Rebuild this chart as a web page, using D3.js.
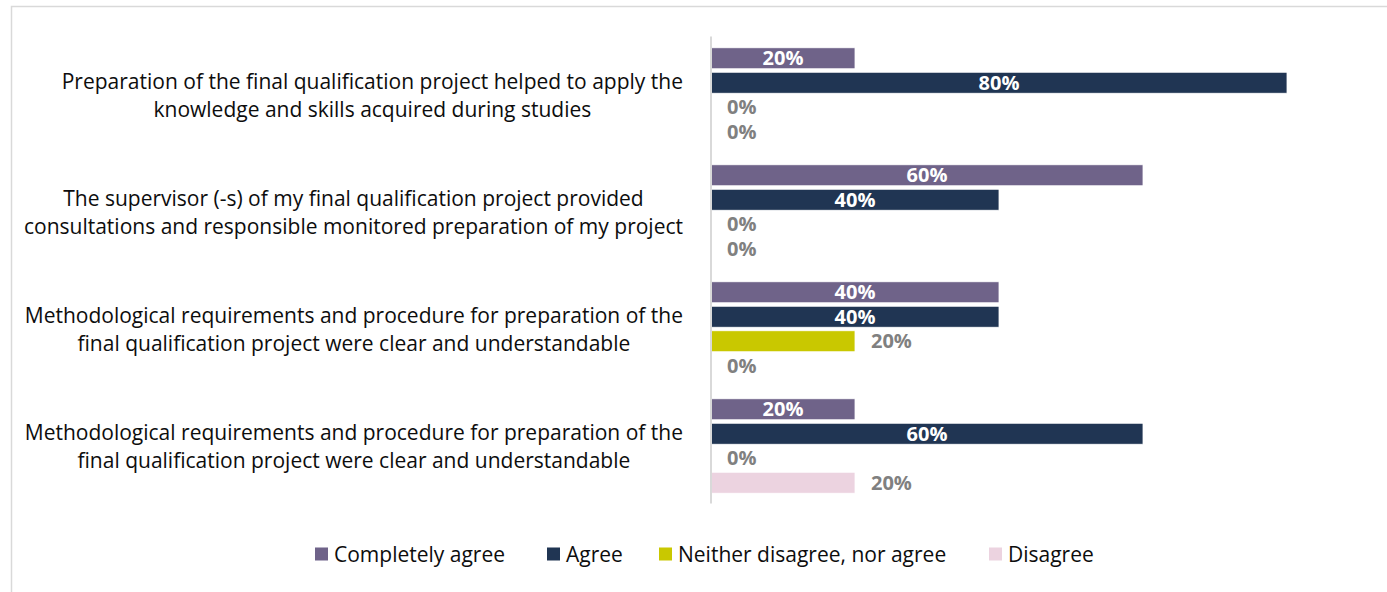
<!DOCTYPE html>
<html>
<head>
<meta charset="utf-8">
<script src="https://cdn.jsdelivr.net/npm/d3@7"></script>
<style>
  html, body { margin: 0; padding: 0; background: #fff; }
  svg { display: block; font-family: "Open Sans", Lato, sans-serif; }
</style>
</head>
<body>
<svg id="chart" width="1387" height="592"></svg>
<script>
// Survey statements (two text lines each)
const categories = [
  ["Preparation of the final qualification project helped to apply the", "knowledge and skills acquired during studies"],
  ["The supervisor (-s) of my final qualification project provided", "consultations and responsible monitored preparation of my project"],
  ["Methodological requirements and procedure for preparation of the", "final qualification project were clear and understandable"],
  ["Methodological requirements and procedure for preparation of the", "final qualification project were clear and understandable"]
];
const seriesNames = ["Completely agree", "Agree", "Neither disagree, nor agree", "Disagree"];
const seriesColors = ["#6f6389", "#203553", "#c9c800", "#ecd3e0"];
// Share of answers (%) per statement, one array per series
const completelyAgree = [20, 60, 40, 20];
const agree = [80, 40, 40, 60];
const neither = [0, 0, 20, 0];
const disagree = [0, 0, 0, 20];
const seriesValues = [completelyAgree, agree, neither, disagree];
// Labels drawn inside the bar (white) for the first two series, outside (grey) for the rest
const labelInside = [true, true, false, false];

const svg = d3.select("#chart");

// Outer frame of the chart area
svg.append("rect")
  .attr("x", 11.5).attr("y", 6.5)
  .attr("width", 1400).attr("height", 600)
  .attr("fill", "none").attr("stroke", "#d9d9d9").attr("stroke-width", 1.5);

const x = d3.scaleLinear().domain([0, 100]).range([711, 1431]);
const y0 = d3.scaleBand().domain(d3.range(categories.length)).range([36.5, 504.5]);
const y1 = d3.scaleBand().domain(d3.range(seriesNames.length))
  .range([0, y0.bandwidth()]).paddingInner(0.143).paddingOuter(0.46);

const groups = svg.append("g").selectAll("g")
  .data(categories.map((c, i) => ({ i, c })))
  .join("g")
  .attr("transform", d => `translate(0,${y0(d.i)})`);

// Bars
groups.selectAll("rect")
  .data(d => seriesValues.map((vals, s) => ({ s, v: vals[d.i] })))
  .join("rect")
  .attr("x", x(0))
  .attr("y", d => y1(d.s))
  .attr("width", d => x(d.v) - x(0))
  .attr("height", y1.bandwidth())
  .attr("fill", d => seriesColors[d.s])
  .attr("stroke", d => d.v > 0 ? "#ffffff" : "none")
  .attr("stroke-width", 0.8);

// Value labels
groups.selectAll("text.val")
  .data(d => seriesValues.map((vals, s) => ({ s, v: vals[d.i] })))
  .join("text")
  .attr("class", "val")
  .attr("x", d => labelInside[d.s] && d.v > 0 ? (x(0) + x(d.v)) / 2 : x(d.v) + 16)
  .attr("y", d => y1(d.s) + y1.bandwidth() / 2)
  .attr("dy", "0.36em")
  .attr("text-anchor", d => labelInside[d.s] && d.v > 0 ? "middle" : "start")
  .attr("font-size", 20)
  .attr("font-weight", 700)
  .attr("fill", d => labelInside[d.s] && d.v > 0 ? "#ffffff" : "#808080")
  .text(d => d.v + "%");

// Vertical category axis line
svg.append("line")
  .attr("x1", x(0)).attr("x2", x(0))
  .attr("y1", y0.range()[0]).attr("y2", y0.range()[1] - 1)
  .attr("stroke", "#d9d9d9").attr("stroke-width", 2);

// Category labels: lines centred on each other, block right-aligned to the axis gap
const labelRight = 683;
const catText = groups.append("text")
  .attr("text-anchor", "middle")
  .attr("font-size", 21)
  .attr("fill", "#0d0d0d");
catText.selectAll("tspan")
  .data(d => d.c)
  .join("tspan")
  .attr("y", (t, j) => y0.bandwidth() / 2 + (j === 0 ? -14 : 14))
  .attr("dy", "0.36em")
  .text(t => t);
catText.each(function () {
  const spans = d3.select(this).selectAll("tspan");
  const widest = d3.max(spans.nodes(), n => n.getComputedTextLength());
  spans.attr("x", labelRight - widest / 2);
});

// Legend
const legendX = [315, 547, 659, 989];
const legend = svg.append("g").selectAll("g")
  .data(seriesNames.map((n, s) => ({ n, s })))
  .join("g")
  .attr("transform", d => `translate(${legendX[d.s]},554)`);
legend.append("rect")
  .attr("x", 0).attr("y", -6.5)
  .attr("width", 13).attr("height", 13)
  .attr("fill", d => seriesColors[d.s]);
legend.append("text")
  .attr("x", 19).attr("y", 0).attr("dy", "0.36em")
  .attr("font-size", 21)
  .attr("fill", "#0d0d0d")
  .text(d => d.n);
</script>
</body>
</html>
